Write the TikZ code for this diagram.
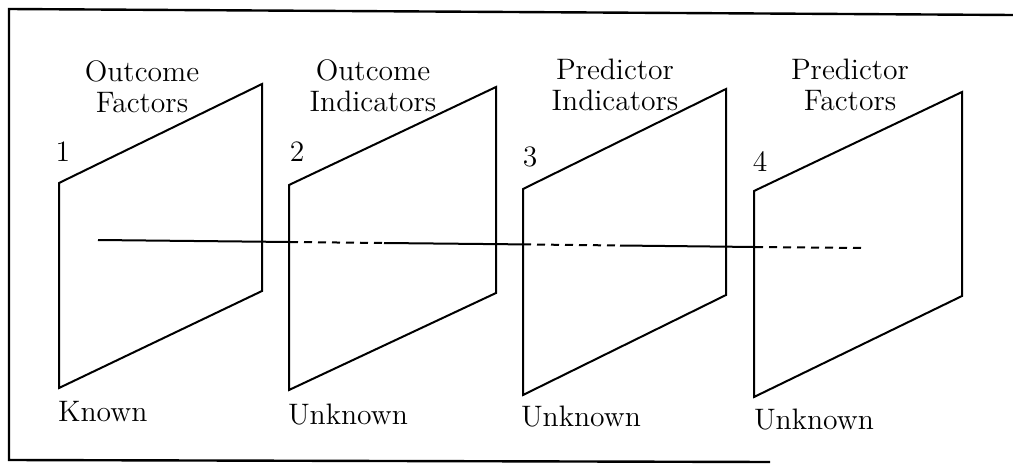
\documentclass[tikz,border=0pt]{standalone}

\begin{document}
\begin{tikzpicture}[x=0.5pt, y=-0.5pt, line width=1pt,
    txt/.style={inner sep=0pt, font=\fontsize{14.8}{15.5}\selectfont},
    ttl/.style={txt, align=center},
    gap/.style={dash pattern=on 4pt off 3pt}]
  \useasboundingbox (0,0) rectangle (1013,471);
  % open frame (scan shows no right edge)
  \draw[line width=1.2pt] (1013,15) -- (9,9) -- (9,460) -- (770,462);

  % the four planes
  \foreach \i/\xl/\tl/\bl/\xr/\tr/\br in {1/59/183/388/262/84/291,
                                          2/289/185/390/496/87/293,
                                          3/523/189/395/726/89/295,
                                          4/754/191/397/962/92/296}
    \draw[line join=miter] (\xl,\bl) -- (\xl,\tl) -- (\xr,\tr) -- (\xr,\br) -- cycle;

  % labels
  \node[ttl] (t1) at (142,87) {Outcome\\Factors};
  \node[ttl] (t2) at (373,86) {Outcome\\Indicators};
  \node[ttl] (t3) at (615,85) {Predictor\\Indicators};
  \node[ttl] (t4) at (850,85) {Predictor\\Factors};
  \node[txt] (n1) at (63,152) {1};
  \node[txt] (n2) at (297,152) {2};
  \node[txt] (n3) at (530,157) {3};
  \node[txt] (n4) at (760,162) {4};
  \node[txt, anchor=west] (s1) at (57,412) {Known};
  \node[txt, anchor=west] (s2) at (287,415) {Unknown};
  \node[txt, anchor=west] (s3) at (520,417) {Unknown};
  \node[txt, anchor=west] (s4) at (753,420) {Unknown};

  % line of sight through the planes
  \coordinate (start) at (98,240);
  \coordinate (a) at (290,242);
  \coordinate (b) at (384,243);
  \coordinate (c) at (523,244.4);
  \coordinate (d) at (620,245.5);
  \coordinate (e) at (755,247);
  \coordinate (end) at (863,248);
  \draw (start) -- (a);
  \draw[gap] (a) -- (b);
  \draw (b) -- (c);
  \draw[gap] (c) -- (d);
  \draw (d) -- (e);
  \draw[gap] (e) -- (end);
\end{tikzpicture}
\end{document}
